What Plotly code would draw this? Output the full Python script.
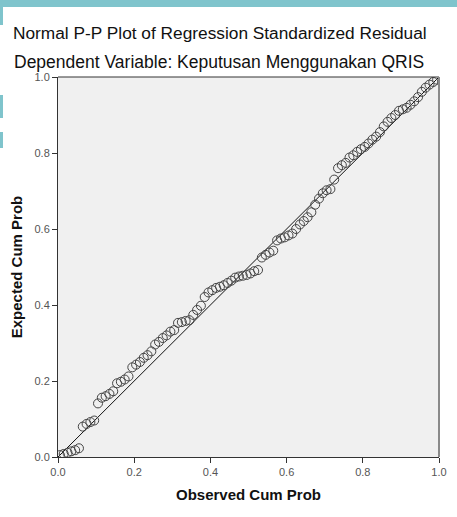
import plotly.graph_objects as go

observed_cum_prob = [
    0.005, 0.015, 0.025, 0.035, 0.045, 0.055, 0.065, 0.075, 0.085, 0.095,
    0.105, 0.115, 0.125, 0.135, 0.145, 0.155, 0.165, 0.175, 0.185, 0.195,
    0.205, 0.215, 0.225, 0.235, 0.245, 0.255, 0.265, 0.275, 0.285, 0.295,
    0.305, 0.315, 0.325, 0.335, 0.345, 0.355, 0.365, 0.375, 0.385, 0.395,
    0.405, 0.415, 0.425, 0.435, 0.445, 0.455, 0.465, 0.475, 0.485, 0.495,
    0.505, 0.515, 0.525, 0.535, 0.545, 0.555, 0.565, 0.575, 0.585, 0.595,
    0.605, 0.615, 0.625, 0.635, 0.645, 0.655, 0.665, 0.675, 0.685, 0.695,
    0.705, 0.715, 0.725, 0.735, 0.745, 0.755, 0.765, 0.775, 0.785, 0.795,
    0.805, 0.815, 0.825, 0.835, 0.845, 0.855, 0.865, 0.875, 0.885, 0.895,
    0.905, 0.915, 0.925, 0.935, 0.945, 0.955, 0.965, 0.975, 0.985, 0.995,
]
expected_cum_prob = [
    0.005, 0.008, 0.011, 0.015, 0.018, 0.023, 0.080, 0.087, 0.092, 0.096,
    0.141, 0.156, 0.160, 0.166, 0.173, 0.194, 0.198, 0.204, 0.212, 0.236,
    0.243, 0.250, 0.261, 0.268, 0.278, 0.296, 0.303, 0.313, 0.320, 0.330,
    0.334, 0.353, 0.355, 0.358, 0.360, 0.374, 0.387, 0.398, 0.421, 0.433,
    0.439, 0.445, 0.448, 0.452, 0.458, 0.464, 0.472, 0.475, 0.477, 0.479,
    0.483, 0.489, 0.492, 0.525, 0.532, 0.538, 0.543, 0.570, 0.575, 0.578,
    0.583, 0.588, 0.600, 0.612, 0.621, 0.631, 0.644, 0.664, 0.680, 0.694,
    0.702, 0.705, 0.730, 0.760, 0.768, 0.774, 0.788, 0.794, 0.803, 0.810,
    0.816, 0.825, 0.835, 0.843, 0.855, 0.870, 0.882, 0.892, 0.900, 0.911,
    0.915, 0.919, 0.927, 0.936, 0.947, 0.961, 0.972, 0.980, 0.987, 0.993,
]
reference_line = [0.0, 1.0]
tick_values = [0.0, 0.2, 0.4, 0.6, 0.8, 1.0]
tick_labels = ["0.0", "0.2", "0.4", "0.6", "0.8", "1.0"]

title_text = "Normal P-P Plot of Regression Standardized Residual"
subtitle_text = "Dependent Variable: Keputusan Menggunakan QRIS"

FONT = "Liberation Sans, Arial, sans-serif"
W, H = 457, 517
L, R, T, B = 58, 18, 77, 60
PW, PH = W - L - R, H - T - B


def px2paper_x(px):
    return (px - L) / PW


def px2paper_y(py):
    return (H - B - py) / PH


TEAL = "#7FC4CC"


def teal_rect(x0, x1, y0, y1):
    return dict(type="rect", xref="paper", yref="paper", layer="below",
                x0=px2paper_x(x0), x1=px2paper_x(x1),
                y0=px2paper_y(y1), y1=px2paper_y(y0),
                line=dict(width=0), fillcolor=TEAL)


fig = go.Figure()
fig.add_trace(go.Scatter(
    x=reference_line, y=reference_line, mode="lines",
    line=dict(color="#111111", width=1), hoverinfo="skip", showlegend=False,
))
fig.add_trace(go.Scatter(
    x=observed_cum_prob, y=expected_cum_prob, mode="markers",
    marker=dict(symbol="circle-open", size=9, color="#444444",
                line=dict(width=1, color="#444444")),
    showlegend=False,
))

axis_common = dict(
    range=[0, 1], tickvals=tick_values, ticktext=tick_labels,
    ticks="outside", ticklen=5, tickcolor="#333333", tickwidth=1,
    showgrid=False, zeroline=False, showline=True, linecolor="#333333",
    linewidth=1, automargin=False,
    tickfont=dict(family=FONT, size=11, color="#555555"),
)

fig.update_layout(
    width=W, height=H,
    margin=dict(l=L, r=R, t=T, b=B),
    paper_bgcolor="white", plot_bgcolor="#F0F0F0",
    xaxis=dict(**axis_common,
               title=dict(text="<b>Observed Cum Prob</b>", standoff=12,
                          font=dict(family=FONT, size=15, color="#111111"))),
    yaxis=dict(**axis_common,
               title=dict(text="<b>Expected Cum Prob</b>", standoff=8,
                          font=dict(family=FONT, size=15, color="#111111"))),
    shapes=[
        dict(type="line", xref="paper", yref="paper", x0=0, x1=1, y0=1, y1=1,
             line=dict(color="#333333", width=1)),
        dict(type="line", xref="paper", yref="paper", x0=1, x1=1, y0=0, y1=1,
             line=dict(color="#8a8a8a", width=2)),
        teal_rect(0, W, 0, 7),
        teal_rect(0, 3, 7, 25),
        teal_rect(0, 3, 95, 118),
        teal_rect(0, 3, 132, 148),
    ],
    annotations=[
        dict(text=title_text, xref="paper", yref="paper",
             x=px2paper_x(220), y=px2paper_y(33), xanchor="center", yanchor="middle",
             showarrow=False, font=dict(family=FONT, size=17.3, color="#111111")),
        dict(text=subtitle_text, xref="paper", yref="paper",
             x=px2paper_x(219), y=px2paper_y(62), xanchor="center", yanchor="middle",
             showarrow=False, font=dict(family=FONT, size=17.5, color="#111111")),
    ],
)

fig.write_html("out.html", config={"displayModeBar": False},
               post_script="document.body.style.margin='0px';window.scrollTo(0,0);")
